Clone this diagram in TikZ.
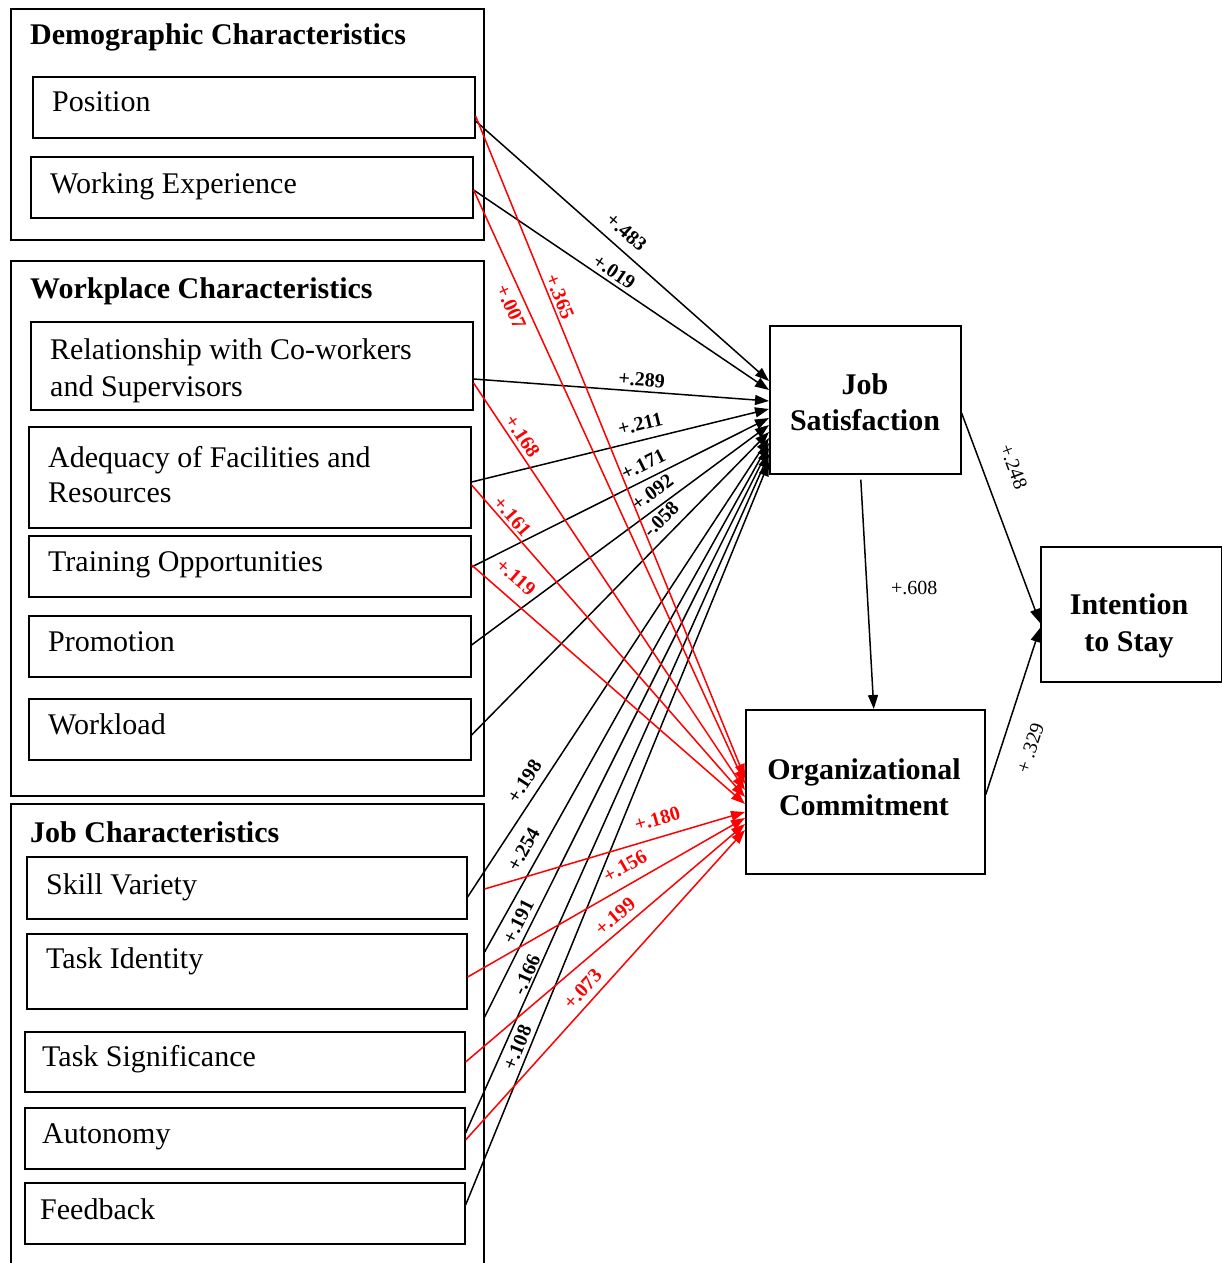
\documentclass[tikz,border=0pt]{standalone}
\usepackage{fontspec}
\setmainfont{Liberation Serif}
\usetikzlibrary{arrows.meta}
\begin{document}
\begin{tikzpicture}[x=1pt,y=-1pt,
  frame/.style={draw,line width=1.6pt,rectangle,inner sep=0pt,anchor=north west},
  txt/.style={anchor=west,inner sep=0pt,text height=21pt,text depth=0pt,font=\fontsize{30}{36}\selectfont},
  txttwo/.style={anchor=west,inner sep=0pt,align=left},
  head/.style={txt,font=\bfseries\fontsize{30}{36}\selectfont},
  ctr/.style={inner sep=0pt,align=center},
  link/.style={line width=1.5pt,-{Triangle[length=14pt,width=10pt]}},
  blk/.style={link,draw=black},
  rd/.style={link,draw=red},
  val/.style={sloped,inner sep=1.5pt,font=\bfseries\fontsize{20}{20}\selectfont},
  rval/.style={val,text=red},
  pval/.style={inner sep=1.5pt,font=\fontsize{20}{20}\selectfont}
]
\useasboundingbox (0,0) rectangle (1222,1263);

% ---- predictor groups ----
\node[frame,minimum width=473pt,minimum height=231pt] (demo) at (10,8) {};
\node[frame,minimum width=473pt,minimum height=535pt] (work) at (10,260) {};
\node[frame,minimum width=473pt,minimum height=480pt] (jobc) at (10,803) {};

\node[head] (demot) at (30,34) {Demographic Characteristics};
\node[head] (workt) at (30,288) {Workplace Characteristics};
\node[head] (jobct) at (30,832) {Job Characteristics};

% ---- predictor boxes ----
\node[frame,minimum width=442pt,minimum height=61pt] (pos) at (32,76) {};
\node[frame,minimum width=442pt,minimum height=61pt] (wexp) at (30,156) {};
\node[frame,minimum width=442pt,minimum height=88pt] (rel) at (30,321) {};
\node[frame,minimum width=442pt,minimum height=101pt] (adeq) at (28,426) {};
\node[frame,minimum width=442pt,minimum height=61pt] (train) at (28,535) {};
\node[frame,minimum width=442pt,minimum height=61pt] (promo) at (28,615) {};
\node[frame,minimum width=442pt,minimum height=61pt] (wload) at (28,698) {};
\node[frame,minimum width=440pt,minimum height=62pt] (skill) at (26,856) {};
\node[frame,minimum width=440pt,minimum height=75pt] (tid) at (26,933) {};
\node[frame,minimum width=440pt,minimum height=60pt] (tsig) at (24,1031) {};
\node[frame,minimum width=440pt,minimum height=61pt] (auto) at (24,1107) {};
\node[frame,minimum width=440pt,minimum height=61pt] (feed) at (24,1182) {};

\node[txt] (post) at (52,101) {Position};
\node[txt] (wexpt) at (50,183) {Working Experience};
\node[txttwo,font=\fontsize{30}{37}\selectfont] (relt) at (50,370.5) {Relationship with Co-workers\\and Supervisors};
\node[txttwo,font=\fontsize{30}{35}\selectfont] (adeqt) at (48,474.5) {Adequacy of Facilities and\\Resources};
\node[txt] (traint) at (48,561) {Training Opportunities};
\node[txt] (promot) at (48,641) {Promotion};
\node[txt] (wloadt) at (48,724) {Workload};
\node[txt] (skillt) at (46,884) {Skill Variety};
\node[txt] (tidt) at (46,958) {Task Identity};
\node[txt] (tsigt) at (42,1056) {Task Significance};
\node[txt] (autot) at (42,1133) {Autonomy};
\node[txt] (feedt) at (40,1209) {Feedback};

% ---- outcome boxes ----
\node[frame,minimum width=191pt,minimum height=148pt] (js) at (769,325) {};
\node[frame,minimum width=239pt,minimum height=164pt] (oc) at (745,709) {};
\node[frame,minimum width=181pt,minimum height=135pt] (its) at (1040,546) {};

\node[ctr,font=\bfseries\fontsize{30}{36}\selectfont] (jst) at (865,401.75) {Job\\Satisfaction};
\node[ctr,font=\bfseries\fontsize{30}{36}\selectfont] (oct) at (864,786.75) {Organizational\\Commitment};
\node[ctr,font=\bfseries\fontsize{30}{37}\selectfont] (itst) at (1129,625.5) {Intention\\to Stay};

% ---- paths to job satisfaction ----
\draw[blk] (pos.east |- 0,121) -- node[val,pos=.476,above=8pt]{+.483} (js.west |- 0,381);
\draw[blk] (wexp.east |- 0,190) -- node[val,pos=.455,above=2pt]{+.019} (js.west |- 0,390);
\draw[blk] (rel.east |- 0,379) -- node[val,pos=.566,above=2.5pt]{+.289} (js.west |- 0,401);
\draw[blk] (adeq.east |- 0,482) -- node[val,pos=.58,above=7pt]{+.211} (js.west |- 0,409);
\draw[blk] (train.east |- 0,567) -- node[val,pos=.6,above=6pt]{+.171} (js.west |- 0,418);
\draw[blk] (promo.east |- 0,645) -- node[val,pos=.638,above=6pt]{+.092} (js.west |- 0,425);
\draw[blk] (wload.east |- 0,735) -- node[val,pos=.675,above=7pt]{-.058} (js.west |- 0,432);
\draw[blk] (skill.east |- 0,897) -- node[val,pos=.233,above=7pt]{+.198} (js.west |- 0,438);
\draw[blk] (jobc.east |- 0,952) -- node[val,pos=.186,above=7pt]{+.254} (js.west |- 0,443);
\draw[blk] (jobc.east |- 0,1017) -- node[val,pos=.158,above=3.5pt]{+.191} (js.west |- 0,448);
\draw[blk] (auto.east |- 0,1133) -- node[val,pos=.228,above=0pt]{-.166} (js.west |- 0,454);
\draw[blk] (feed.east |- 0,1205) -- node[val,pos=.206,above=2.5pt]{+.108} (js.west |- 0,462);

% ---- paths to organizational commitment ----
\draw[rd] (pos.east |- 0,116) -- node[rval,pos=.2785,above=1pt]{+.365} (oc.west |- 0,778);
\draw[rd] (wexp.east |- 0,190) -- node[rval,pos=.187,below=5.5pt]{+.007} (oc.west |- 0,784);
\draw[rd] (rel.east |- 0,383) -- node[rval,pos=.146,above=2pt]{+.168} (oc.west |- 0,790);
\draw[rd] (adeq.east |- 0,485) -- node[rval,pos=.1216,above=1pt]{+.161} (oc.west |- 0,797);
\draw[rd] (train.east |- 0,565) -- node[rval,pos=.114,above=11pt]{+.119} (oc.west |- 0,804);
\draw[rd] (jobc.east |- 0,889) -- node[rval,pos=.683,above=9pt]{+.180} (oc.west |- 0,812);
\draw[rd] (tid.east |- 0,977) -- node[rval,pos=.6,above=9pt]{+.156} (oc.west |- 0,818);
\draw[rd] (tsig.east |- 0,1062) -- node[rval,pos=.568,above=5pt]{+.199} (oc.west |- 0,824);
\draw[rd] (auto.east |- 0,1140) -- node[rval,pos=.456,above=5pt]{+.073} (oc.west |- 0,830);

% ---- outcome paths ----
\draw[blk] ([xshift=-4.5pt,yshift=-5pt]js.south) -- node[pval,pos=.472,right=22pt]{+.608} ([xshift=8.5pt]oc.north);
\draw[blk] (js.east |- 0,413) -- node[pval,sloped,pos=.305,above=21pt]{+.248} (its.west |- 0,623);
\draw[blk] (oc.east |- 0,795) -- node[pval,sloped,pos=.332,below=19pt]{+ .329} (its.west |- 0,628);
\end{tikzpicture}
\end{document}
